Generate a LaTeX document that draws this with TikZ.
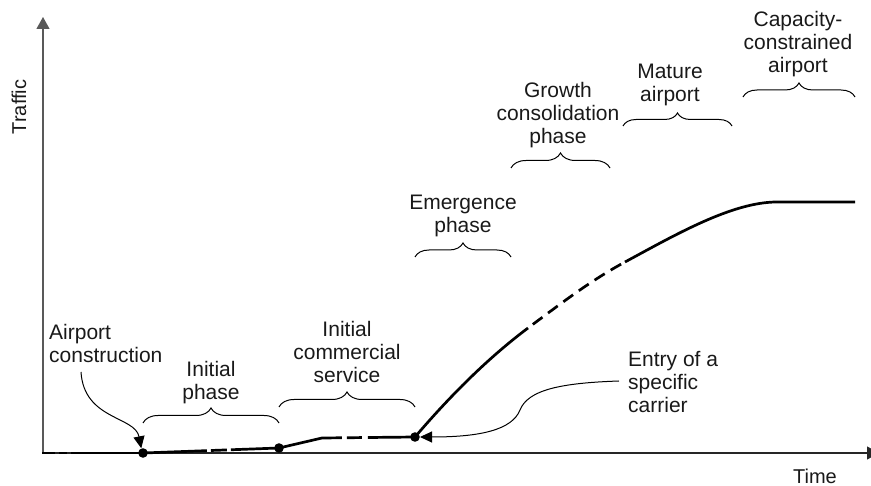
\documentclass[tikz,border=0pt]{standalone}
\usepackage{fontspec}
\setmainfont{Liberation Sans}
\usetikzlibrary{arrows.meta,decorations.pathreplacing}
\newcommand\clab[1]{\begin{tabular}[b]{@{}c@{}}#1\end{tabular}}
\newcommand\llab[1]{\begin{tabular}[b]{@{}l@{}}#1\end{tabular}}
\tikzset{
  axisline/.style={line width=1.2pt},
  curve/.style={line width=2.7pt, line join=round},
  dot/.style={circle, fill=black, inner sep=0pt, minimum size=9.6pt},
  bracebox/.style={decorate, line width=1pt},
  lbl/.style={inner sep=0pt, font=\fontsize{21pt}{23pt}\selectfont, text=black!90},
  note/.style={line width=1pt, -{Triangle[length=12pt,width=11pt]}},
}
\begin{document}
\begin{tikzpicture}[x=1pt, y=-1pt]
\useasboundingbox (0,0) rectangle (871,486);
% axes
\coordinate (o) at (43,453);
\coordinate (ytop) at (43,17);
\coordinate (xend) at (879,453);
\draw[axisline, black!65, -{Triangle[length=12pt,width=13pt]}] (o) -- (ytop);
\draw[axisline, black!85, -{Triangle[length=12pt,width=13pt]}] (o) -- (xend);
\node[lbl, font=\fontsize{20pt}{22pt}\selectfont, rotate=90] (traffic) at (19,107) {Traffic};
\node[lbl, font=\fontsize{20pt}{22pt}\selectfont, anchor=base] (time) at (815,483) {Time};
% traffic curve
\coordinate (c0) at (42,453);
\node[dot] (d1) at (143,453) {};
\node[dot] (d2) at (279,448) {};
\coordinate (k1) at (322,438);
\node[dot] (d3) at (415,437) {};
\coordinate (k2) at (528,328);
\coordinate (k3) at (625,262);
\coordinate (k4) at (777,202);
\coordinate (k5) at (855,202);
\draw[curve, dash pattern=on 13pt off 4pt on 8pt off 4pt on 300pt] (c0) -- (d1.center);
\draw[curve, dash pattern=on 64pt off 4pt on 16pt off 4pt on 300pt] (d1.center) -- (d2.center);
\draw[curve, dash pattern=on 64pt off 5pt on 15pt off 6pt on 300pt] (d2.center) -- (k1) -- (d3.center);
\draw[curve] (d3.center) .. controls (450,396) and (488,358) .. (k2);
\draw[curve, dash pattern=on 12pt off 7pt, dash phase=13pt] (k2) .. controls (563,302) and (590,281) .. (k3);
\draw[curve] (k3) .. controls (675,235) and (732,202) .. (k4) -- (k5);
% braces
\draw[bracebox, decoration={brace, amplitude=15pt}] (143,423) -- (279,423);
\draw[bracebox, decoration={brace, amplitude=15pt}] (279,407) -- (415,407);
\draw[bracebox, decoration={brace, amplitude=14pt}] (415,257) -- (511,257);
\draw[bracebox, decoration={brace, amplitude=15pt}] (511,168) -- (610,168);
\draw[bracebox, decoration={brace, amplitude=13pt}] (623,126) -- (732,126);
\draw[bracebox, decoration={brace, amplitude=14pt}] (743,97) -- (855,97);
% labels
\node[lbl, anchor=base west] (constr) at (49,363) {\llab{Airport\\construction}};
\node[lbl, anchor=base] (initial) at (211,400) {\clab{Initial\\phase}};
\node[lbl, anchor=base] (ics) at (347,383) {\clab{Initial\\commercial\\service}};
\node[lbl, anchor=base] (emerg) at (463,233) {\clab{Emergence\\phase}};
\node[lbl, anchor=base] (growth) at (558,144) {\clab{Growth\\consolidation\\phase}};
\node[lbl, anchor=base] (mature) at (670,102) {\clab{Mature\\airport}};
\node[lbl, anchor=base] (capac) at (798,73) {\clab{Capacity-\\constrained\\airport}};
\node[lbl, anchor=base west] (entry) at (628,413) {\llab{Entry of a\\specific\\carrier}};
% annotation arrows
\coordinate (cs) at (81,372);
\coordinate (es) at (619,381);
\coordinate (em) at (520,410);
\draw[note] (cs) .. controls (84,420) and (135,416) .. (d1.110);
\draw[note] (es) .. controls (560,383) and (528,390) .. (em) .. controls (512,430) and (480,437) .. (d3.east);
\end{tikzpicture}
\end{document}
